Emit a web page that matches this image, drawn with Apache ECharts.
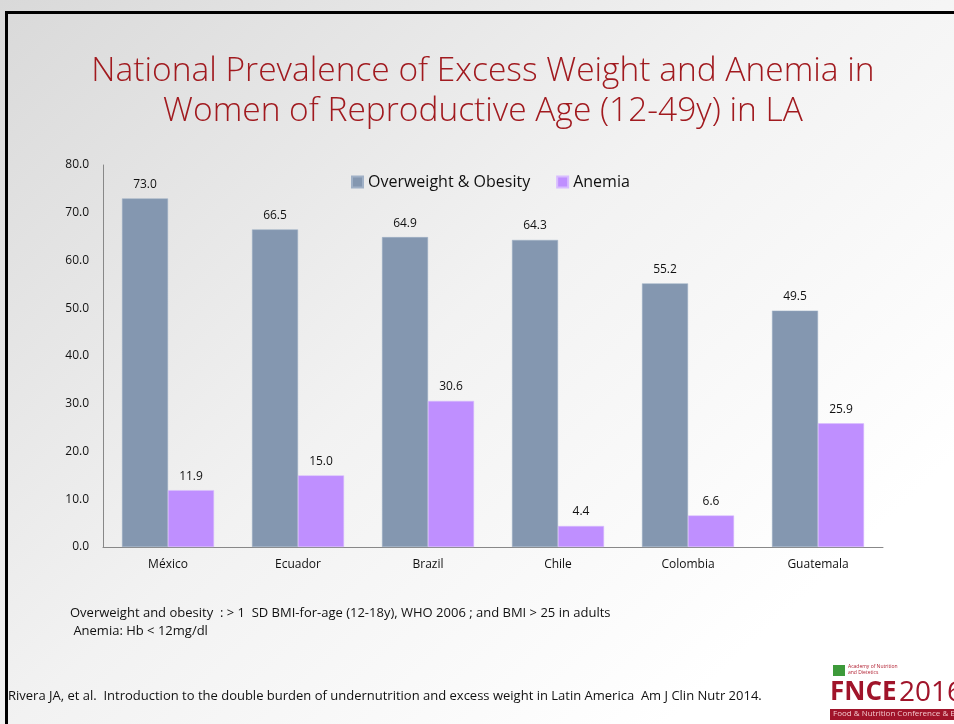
<!DOCTYPE html>
<html>
<head>
<meta charset="utf-8">
<script src="https://cdn.jsdelivr.net/npm/echarts@6/dist/echarts.min.js"></script>
<style>
html,body{margin:0;padding:0;}
#chart{width:954px;height:724px;}
</style>
</head>
<body>
<div id="chart"></div>
<script>
// data
var countries = ['México', 'Ecuador', 'Brazil', 'Chile', 'Colombia', 'Guatemala'];
var overweight = [73.0, 66.5, 64.9, 64.3, 55.2, 49.5];
var anemia = [11.9, 15.0, 30.6, 4.4, 6.6, 25.9];
var yTicks = [0, 10, 20, 30, 40, 50, 60, 70, 80];

var font = '"Liberation Sans Narrow", "Open Sans", sans-serif';
var chart = echarts.init(document.getElementById('chart'));

var option = {
	backgroundColor: {
		type: 'linear', x: 0, y: 0, x2: 0.7, y2: 1,
		colorStops: [{offset: 0, color: '#d9d9d9'}, {offset: 0.55, color: '#f2f2f2'}, {offset: 1, color: '#ffffff'}]
	},
	animation: false,
	title: {
		text: 'National Prevalence of Excess Weight and Anemia in\nWomen of Reproductive Age (12-49y) in LA',
		left: 478, top: 46, textAlign: 'center',
		textStyle: {
			color: '#a11a1f', fontSize: 33.5, fontWeight: 300,
			fontFamily: '"Open Sans", sans-serif', lineHeight: 40
		}
	},
	legend: {
		top: 169, left: 346,
		itemWidth: 11, itemHeight: 11, itemGap: 26,
		icon: 'rect',
		textStyle: {fontSize: 16, color: '#111', fontFamily: font}
	},
	grid: {left: 103, right: 71, top: 165, bottom: 177},
	xAxis: {
		type: 'category',
		data: countries,
		axisLine: {lineStyle: {color: '#888', width: 1}},
		axisTick: {show: false},
		axisLabel: {fontSize: 12, color: '#111', margin: 12, fontFamily: '"Open Sans", sans-serif'}
	},
	yAxis: {
		type: 'value',
		min: yTicks[0], max: yTicks[yTicks.length - 1], interval: 10,
		axisLine: {show: true, lineStyle: {color: '#888', width: 1}},
		axisTick: {show: false},
		splitLine: {show: false},
		axisLabel: {
			fontSize: 12, color: '#111', margin: 14, fontFamily: '"Open Sans", sans-serif',
			formatter: function (v) { return v.toFixed(1); }
		}
	},
	series: [{
		name: 'Overweight & Obesity',
		type: 'bar',
		data: overweight,
		barWidth: 46,
		barGap: '0%',
		itemStyle: {color: '#8497b0', borderColor: '#9fb0c6', borderWidth: 0.5},
		label: {show: true, position: 'top', distance: 8, fontSize: 12, color: '#111',
			fontFamily: '"Open Sans", sans-serif', formatter: function (p) { return p.value.toFixed(1); }}
	}, {
		name: 'Anemia',
		type: 'bar',
		data: anemia,
		barWidth: 46,
		barGap: '0%',
		itemStyle: {color: '#bf8fff', borderColor: '#d8bcff', borderWidth: 0.5},
		label: {show: true, position: 'top', distance: 8, fontSize: 12, color: '#111',
			fontFamily: '"Open Sans", sans-serif', formatter: function (p) { return p.value.toFixed(1); }}
	}],
	graphic: [{
		type: 'rect', left: 4, top: 10,
		shape: {width: 1000, height: 800},
		style: {fill: 'none', stroke: '#000', lineWidth: 3}
	}, {
		type: 'text', left: 70, top: 604,
		style: {text: 'Overweight and obesity  : > 1  SD BMI-for-age (12-18y), WHO 2006 ; and BMI > 25 in adults\n Anemia: Hb < 12mg/dl',
			fontSize: 13, lineHeight: 18, fill: '#111', fontFamily: font}
	}, {
		type: 'text', left: 8, top: 690,
		style: {text: 'Rivera JA, et al.  Introduction to the double burden of undernutrition and excess weight in Latin America  Am J Clin Nutr 2014.',
			fontSize: 13, fill: '#111', fontFamily: font}
	}, {
		type: 'text', left: 848, top: 664,
		style: {text: 'Academy of Nutrition\nand Dietetics', fontSize: 5, lineHeight: 6, fill: '#b01c2e', fontFamily: font}
	}, {
		type: 'rect', left: 833, top: 665,
		shape: {width: 12, height: 11},
		style: {fill: '#3d9a3a'}
	}, {
		type: 'text', left: 830, top: 680,
		style: {text: 'FNCE', fontSize: 26, fontWeight: 'bold', fill: '#a0142a', fontFamily: font}
	}, {
		type: 'text', left: 899, top: 679,
		style: {text: '2016', fontSize: 28, fill: '#a0142a', fontFamily: font}
	}, {
		type: 'rect', left: 830, top: 709,
		shape: {width: 130, height: 11},
		style: {fill: '#a0142a'}
	}, {
		type: 'text', left: 833, top: 710,
		style: {text: 'Food & Nutrition Conference & Expo', fontSize: 8, fill: '#f2c7cc', fontFamily: font}
	}]
};

chart.setOption(option);
</script>
</body>
</html>
